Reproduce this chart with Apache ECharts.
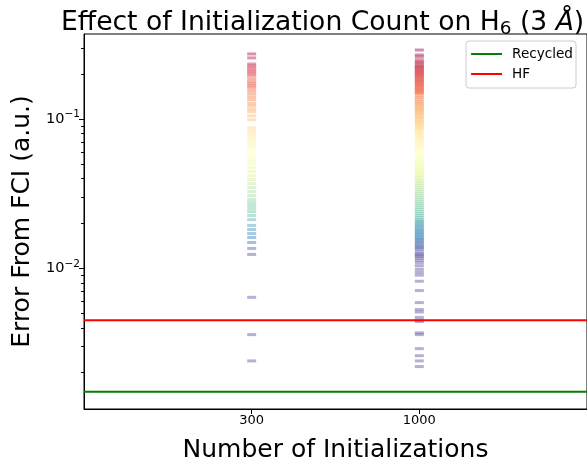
<!DOCTYPE html>
<html>
<head>
<meta charset="utf-8">
<script src="https://cdn.jsdelivr.net/npm/echarts@6/dist/echarts.min.js"></script>
<style>
html,body{margin:0;padding:0;background:#fff;}
#chart{width:587px;height:468px;}
</style>
</head>
<body>
<div id="chart"></div>
<script>
// ---- data ----
const categories = ['300', '1000'];
const errors300 = [
  0.273, 0.257, 0.234, 0.227, 0.220, 0.213,
  0.207, 0.201, 0.195, 0.186, 0.178, 0.172,
  0.167, 0.162, 0.155, 0.148, 0.141, 0.135,
  0.128, 0.123, 0.117, 0.112, 0.105, 0.0990,
  0.0875, 0.0835, 0.0797, 0.0762, 0.0727, 0.0694,
  0.0663, 0.0634, 0.0605, 0.0577, 0.0551, 0.0526,
  0.0503, 0.0473, 0.0445, 0.0418, 0.0393, 0.0370,
  0.0348, 0.0327, 0.0307, 0.0289, 0.0276, 0.0264,
  0.0252, 0.0240, 0.0226, 0.0212, 0.0194, 0.0182,
  0.0171, 0.0161, 0.0149, 0.0136, 0.0124, 0.0064, 0.0036, 0.0024
];
const errors1000 = [
  0.290, 0.269, 0.261, 0.249, 0.2415, 0.2378, 0.231, 0.227, 0.2235, 0.220,
  0.217, 0.213, 0.210, 0.207, 0.204, 0.201, 0.198, 0.195, 0.192, 0.189,
  0.186, 0.183, 0.180, 0.178, 0.175, 0.172, 0.170, 0.167, 0.164, 0.162,
  0.159, 0.157, 0.155, 0.152, 0.150, 0.148,
  0.143, 0.139, 0.135, 0.131, 0.128, 0.125, 0.122, 0.119, 0.117, 0.114,
  0.112, 0.109, 0.107, 0.104, 0.102, 0.0995, 0.097, 0.0952, 0.093, 0.091,
  0.0888, 0.0868, 0.0848, 0.0822,
  0.0797, 0.0773, 0.0750, 0.0727, 0.0705, 0.0684, 0.0663, 0.0643, 0.0624, 0.0605, 0.0586,
  0.0568, 0.0551, 0.0534, 0.0518, 0.0503, 0.0488, 0.0473, 0.0458, 0.0445, 0.0431,
  0.0418, 0.0405, 0.0393, 0.0381, 0.0370,
  0.0359, 0.0348, 0.0337, 0.0327, 0.0317, 0.0307, 0.0298, 0.0289, 0.0280, 0.0272,
  0.0264, 0.0256, 0.0248, 0.0240, 0.0233, 0.0226, 0.0219, 0.0212,
  0.0207, 0.0203, 0.0198, 0.0194, 0.0190, 0.0185, 0.0181, 0.0177, 0.0173, 0.0169,
  0.0165, 0.0161, 0.0157, 0.0154, 0.0150, 0.0147, 0.0143, 0.0140, 0.0137, 0.0134,
  0.0129, 0.0125, 0.0123, 0.0120, 0.0117, 0.0113, 0.0109,
  0.0104, 0.00985, 0.0094, 0.0090, 0.0082, 0.0071, 0.0059, 0.0053, 0.0051, 0.0047,
  0.0045, 0.0044, 0.0037, 0.0036, 0.0029, 0.0026, 0.0024, 0.0022
];
const hfError = 0.0045;
const recycledError = 0.00149;
const yMajorTicks = [0.01, 0.1];
const yMinorTicks = [0.002, 0.003, 0.004, 0.005, 0.006, 0.007, 0.008, 0.009,
  0.02, 0.03, 0.04, 0.05, 0.06, 0.07, 0.08, 0.09, 0.2, 0.3];

// ---- layout / style ----
const X_MIN = -1, X_MAX = 2;
const Y_MIN = 0.001143, Y_MAX = 0.3714;
const LOG_LO = -1.906, LOG_HI = -0.537;
const FONT = 'DejaVu Sans';
const spectralRev = ['#5e4fa2','#3288bd','#66c2a5','#abdda4','#e6f598','#ffffbf',
  '#fee08b','#fdae61','#f46d43','#d53e4f','#9e0142'];

function toPoint(col, v) {
  const lg = Math.log10(v);
  return [col, v, Math.min(LOG_HI, Math.max(LOG_LO, lg))];
}
const scatterData = errors300.map(v => toPoint(0, v))
  .concat(errors1000.map(v => toPoint(1, v)));

const chart = echarts.init(document.getElementById('chart'), null, {renderer: 'canvas'});
chart.setOption({
  animation: false,
  backgroundColor: '#fff',
  textStyle: {fontFamily: FONT},
  title: {
    text: '{t|Effect of Initialization Count on H}{sub|6}{t| (3 }{it|Å}{t|)}',
    left: 56, top: 3,
    textStyle: {
      fontWeight: 'normal',
      rich: {
        t: {fontFamily: FONT, fontSize: 26.6, fontWeight: 'normal', color: '#000'},
        sub: {fontFamily: FONT, fontSize: 18.5, fontWeight: 'normal', color: '#000', padding: [12, 0, 0, 0]},
        it: {fontFamily: FONT, fontSize: 26.6, fontWeight: 'normal', color: '#000', fontStyle: 'italic'}
      }
    }
  },
  legend: {
    data: [{name: 'Recycled', icon: 'rect'}, {name: 'HF', icon: 'rect'}],
    orient: 'vertical',
    right: 11, top: 41,
    itemWidth: 31, itemHeight: 2, itemGap: 4,
    padding: [5, 3, 6, 5],
    borderColor: '#cccccc', borderWidth: 1, borderRadius: 3,
    backgroundColor: 'rgba(255,255,255,0.8)',
    textStyle: {fontFamily: FONT, fontSize: 13.6, color: '#000', padding: [0, 0, 0, 5], lineHeight: 16}
  },
  grid: {
    left: 84, right: -1, top: 34, bottom: 58,
    show: true, borderColor: '#000', borderWidth: 1, backgroundColor: 'transparent'
  },
  visualMap: {
    type: 'continuous', show: false, seriesIndex: 0, dimension: 2,
    min: LOG_LO, max: LOG_HI,
    inRange: {color: spectralRev}
  },
  xAxis: {
    type: 'value', min: X_MIN, max: X_MAX,
    name: 'Number of Initializations', nameLocation: 'middle', nameGap: 29,
    nameTextStyle: {fontFamily: FONT, fontSize: 25, color: '#000'},
    axisLine: {show: true, onZero: false, lineStyle: {color: '#000', width: 1}},
    axisTick: {show: true, customValues: [0, 1], length: 5, lineStyle: {color: '#000'}},
    axisLabel: {customValues: [0, 1], formatter: v => categories[Math.round(v)],
      fontFamily: FONT, fontSize: 13, color: '#000', margin: 5},
    splitLine: {show: false}
  },
  yAxis: [{
    type: 'log', logBase: 10, min: Y_MIN, max: Y_MAX,
    name: 'Error From FCI (a.u.)', nameLocation: 'middle', nameGap: 48,
    nameTextStyle: {fontFamily: FONT, fontSize: 25, color: '#000'},
    axisLine: {show: true, onZero: false, lineStyle: {color: '#000', width: 1}},
    axisTick: {show: true, customValues: yMajorTicks, length: 5, lineStyle: {color: '#000'}},
    axisLabel: {
      customValues: yMajorTicks,
      formatter: v => '{b|10}{s|−' + Math.round(-Math.log10(v)) + '}',
      margin: 4,
      rich: {
        b: {fontFamily: FONT, fontSize: 14.5, color: '#000'},
        s: {fontFamily: FONT, fontSize: 10.5, color: '#000', padding: [0, 0, 9, 0]}
      }
    },
    splitLine: {show: false}
  }, {
    type: 'log', logBase: 10, min: Y_MIN, max: Y_MAX, position: 'left',
    axisLine: {show: false, onZero: false},
    axisTick: {show: true, customValues: yMinorTicks, length: 3, lineStyle: {color: '#000'}},
    axisLabel: {show: false},
    splitLine: {show: false}
  }],
  series: [{
    type: 'scatter',
    xAxisIndex: 0, yAxisIndex: 0,
    symbol: 'rect', symbolSize: [9, 3],
    itemStyle: {opacity: 0.45},
    data: scatterData,
    z: 2
  }, {
    name: 'Recycled', type: 'line', symbol: 'none',
    lineStyle: {color: '#008000', width: 2}, itemStyle: {color: '#008000'},
    data: [[X_MIN, recycledError], [X_MAX, recycledError]],
    z: 3
  }, {
    name: 'HF', type: 'line', symbol: 'none',
    lineStyle: {color: '#ff0000', width: 2}, itemStyle: {color: '#ff0000'},
    data: [[X_MIN, hfError], [X_MAX, hfError]],
    z: 3
  }]
});
</script>
</body>
</html>
